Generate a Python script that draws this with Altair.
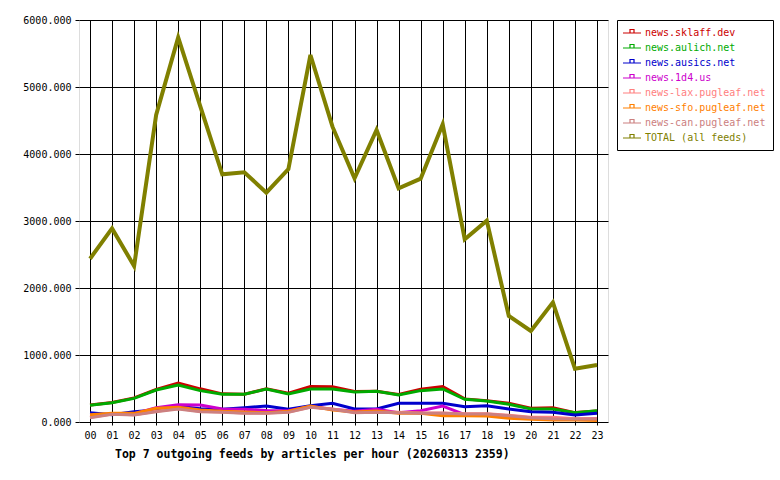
import altair as alt
import pandas as pd

hours = [f"{h:02d}" for h in range(24)]

series_names = [
    "news.sklaff.dev",
    "news.aulich.net",
    "news.ausics.net",
    "news.1d4.us",
    "news-lax.pugleaf.net",
    "news-sfo.pugleaf.net",
    "news-can.pugleaf.net",
    "TOTAL (all feeds)",
]
series_colors = ["#cc0000", "#00aa00", "#0000cc", "#cc00cc", "#ff8080", "#ff8000", "#cc8080", "#808000"]

sklaff = [255, 290, 360, 485, 580, 495, 420, 415, 495, 430, 530, 525, 455, 460, 410, 488, 530, 345, 318, 279, 205, 214, 140, 165]
aulich = [249, 288, 353, 478, 552, 468, 413, 413, 492, 418, 493, 493, 448, 458, 403, 468, 493, 338, 313, 264, 194, 194, 139, 169]
ausics = [139, 110, 154, 179, 235, 199, 189, 214, 239, 189, 244, 279, 194, 194, 279, 279, 279, 229, 244, 194, 154, 144, 104, 129]
d4 = [100, 120, 125, 214, 259, 254, 195, 190, 170, 169, 230, 189, 160, 190, 140, 169, 239, 110, 100, 80, 60, 55, 40, 50]
lax = [70, 118, 110, 160, 200, 160, 150, 135, 134, 150, 224, 195, 145, 150, 145, 135, 135, 125, 124, 100, 72, 70, 50, 50]
sfo = [110, 129, 129, 204, 219, 179, 160, 150, 139, 160, 239, 180, 150, 164, 129, 129, 94, 94, 89, 55, 40, 30, 30, 21]
can = [65, 114, 105, 154, 194, 154, 144, 129, 129, 144, 219, 189, 139, 144, 139, 130, 129, 119, 119, 94, 65, 50, 45, 45]
total = [2437, 2890, 2328, 4582, 5741, 4716, 3697, 3727, 3423, 3776, 5478, 4408, 3637, 4358, 3488, 3632, 4443, 2727, 3005, 1582, 1358, 1786, 796, 851]

values = [sklaff, aulich, ausics, d4, lax, sfo, can, total]
rows = []
for name, vals in zip(series_names, values):
    for h, v in zip(hours, vals):
        rows.append({"series": name, "hour": h, "value": v})
df = pd.DataFrame(rows)

FONT = "DejaVu Sans Mono"

color = alt.Color(
    "series:N",
    scale=alt.Scale(domain=series_names, range=series_colors),
    legend=alt.Legend(
        title=None,
        orient="none",
        legendX=538,
        legendY=0,
        direction="vertical",
        strokeColor="black",
        fillColor="white",
        padding=7,
        rowPadding=4,
        labelFont=FONT,
        labelFontSize=10,
        labelOffset=7,
        labelColor={"expr": "scale('color', datum.value)"},
        symbolType="M-1.8,0L1.8,0M-0.4,0L-0.4,-0.7L0.4,-0.7L0.4,0Z",
        symbolSize=100,
        symbolOffset=2,
        symbolStrokeWidth=1.2,
        symbolFillColor="transparent",
    ),
)

x = alt.X(
    "hour:O",
    sort=hours,
    scale=alt.Scale(type="point", padding=0.5),
    axis=alt.Axis(
        title=None, labelAngle=0, grid=True, gridColor="black", gridOpacity=1, gridWidth=1,
        domain=False, tickColor="black", tickSize=3, labelFont=FONT, labelFontSize=10,
        labelColor="black", labelPadding=5,
    ),
)
y = alt.Y(
    "value:Q",
    scale=alt.Scale(domain=[0, 6000], nice=False),
    axis=alt.Axis(
        title=None, values=[0, 1000, 2000, 3000, 4000, 5000, 6000], format=".3f",
        grid=True, gridColor="black", gridOpacity=1, gridWidth=1, domain=False,
        tickColor="black", tickSize=4, labelFont=FONT, labelFontSize=10,
        labelColor="black", labelPadding=4,
    ),
)

base = alt.Chart(df)
feeds = base.transform_filter(alt.datum.series != "TOTAL (all feeds)").mark_line(strokeWidth=3).encode(
    x=x, y=y, color=color
)
tot = base.transform_filter(alt.datum.series == "TOTAL (all feeds)").mark_line(strokeWidth=4).encode(
    x=x, y=y, color=color
)

chart = alt.layer(feeds, tot).properties(
    width=529,
    height=402,
    autosize=alt.AutoSizeParams(type="none"),
    padding={"left": 79, "top": 20, "right": 172, "bottom": 58},
    title=alt.TitleParams(
        "Top 7 outgoing feeds by articles per hour (20260313 2359)",
        orient="bottom", anchor="start", frame="group", dx=36, offset=9,
        font=FONT, fontSize=11.5, fontWeight="bold", color="black",
    ),
).configure_view(
    fill="#e0e0e0", stroke="black", strokeWidth=1
).configure(background="white")

chart.save("out.html", embed_options={"renderer": "svg", "actions": False})
